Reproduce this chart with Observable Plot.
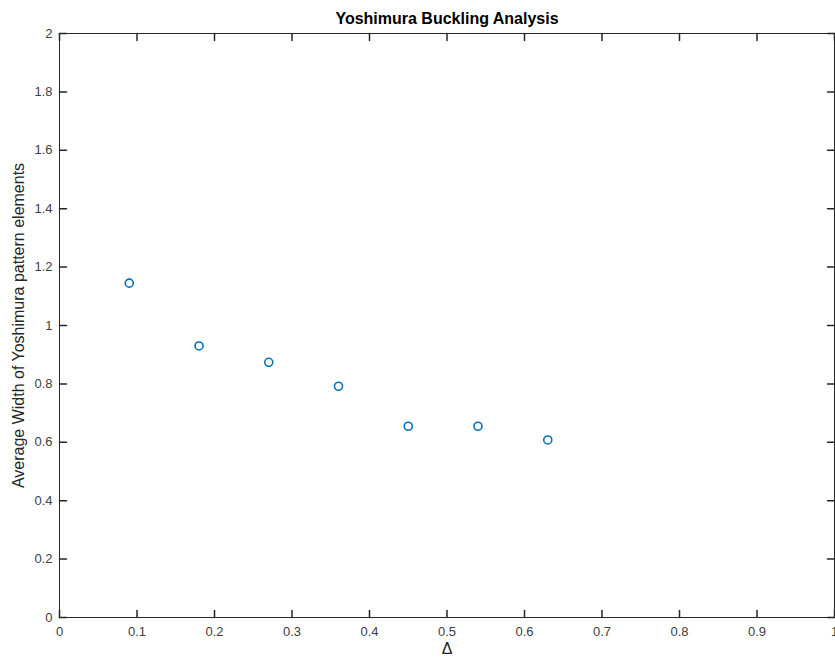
<!DOCTYPE html>
<html>
<head>
<meta charset="utf-8">
<script src="https://cdn.jsdelivr.net/npm/d3@7"></script>
<script src="https://cdn.jsdelivr.net/npm/@observablehq/plot@0.6"></script>
<style>
  html, body { margin: 0; padding: 0; background: #fff; }
  #chart svg { display: block; }
</style>
</head>
<body>
<div id="chart"></div>
<script>
const deltas = [0.09, 0.18, 0.27, 0.36, 0.45, 0.54, 0.63];
const widths = [1.145, 0.930, 0.874, 0.792, 0.655, 0.655, 0.608];
const xTicks = [0, 0.1, 0.2, 0.3, 0.4, 0.5, 0.6, 0.7, 0.8, 0.9, 1];
const yTicks = [0, 0.2, 0.4, 0.6, 0.8, 1, 1.2, 1.4, 1.6, 1.8, 2];
const title = "Yoshimura Buckling Analysis";
const xLabel = "Δ";
const yLabel = "Average Width of Yoshimura pattern elements";

const points = deltas.map((d, i) => ({delta: d, width: widths[i]}));
const axisColor = "#262626";
const labelColor = "#404040";
const font = "'Liberation Sans', Arial, Helvetica, sans-serif";

const tickShape = {
  draw(context, l) { context.moveTo(0, 0); context.lineTo(0, -l); }
};
const tickLen = 7;

const chart = Plot.plot({
  width: 835,
  height: 657,
  marginLeft: 59,
  marginRight: 1,
  marginTop: 33,
  marginBottom: 40,
  style: {fontFamily: font, fontSize: "13px", color: labelColor, background: "#fff"},
  x: {domain: [0, 1], ticks: xTicks, label: null},
  y: {domain: [0, 2], ticks: yTicks, label: null},
  marks: [
    Plot.frame({stroke: axisColor, strokeWidth: 1}),
    Plot.axisX({anchor: "bottom", ticks: xTicks, tickSize: 0, tickPadding: 9, tickFormat: d => String(d), label: null, fill: labelColor, fontSize: 13}),
    Plot.axisY({anchor: "left", ticks: yTicks, tickSize: 0, tickPadding: 7, tickFormat: d => String(d), label: null, fill: labelColor, fontSize: 13}),
    // inward ticks on all four sides
    Plot.vector(xTicks, {x: d => d, frameAnchor: "bottom", length: tickLen, rotate: 0, anchor: "start", shape: tickShape, stroke: axisColor}),
    Plot.vector(xTicks, {x: d => d, frameAnchor: "top", length: tickLen, rotate: 180, anchor: "start", shape: tickShape, stroke: axisColor}),
    Plot.vector(yTicks, {y: d => d, frameAnchor: "left", length: tickLen, rotate: 90, anchor: "start", shape: tickShape, stroke: axisColor}),
    Plot.vector(yTicks, {y: d => d, frameAnchor: "right", length: tickLen, rotate: -90, anchor: "start", shape: tickShape, stroke: axisColor}),
    Plot.dot(points, {x: "delta", y: "width", r: 4, stroke: "#0072BD", strokeWidth: 1.6, fill: "none"}),
    Plot.text([title], {frameAnchor: "top", dy: -15, textAnchor: "middle", lineAnchor: "middle", fontWeight: "bold", fontSize: 16, fill: "#000"}),
    Plot.text([xLabel], {frameAnchor: "bottom", dy: 31, textAnchor: "middle", lineAnchor: "middle", fontSize: 16, fill: axisColor}),
    Plot.text([yLabel], {frameAnchor: "left", dx: -41, rotate: -90, textAnchor: "middle", lineAnchor: "middle", fontSize: 16, fill: axisColor})
  ]
});
document.getElementById("chart").appendChild(chart);
</script>
</body>
</html>
